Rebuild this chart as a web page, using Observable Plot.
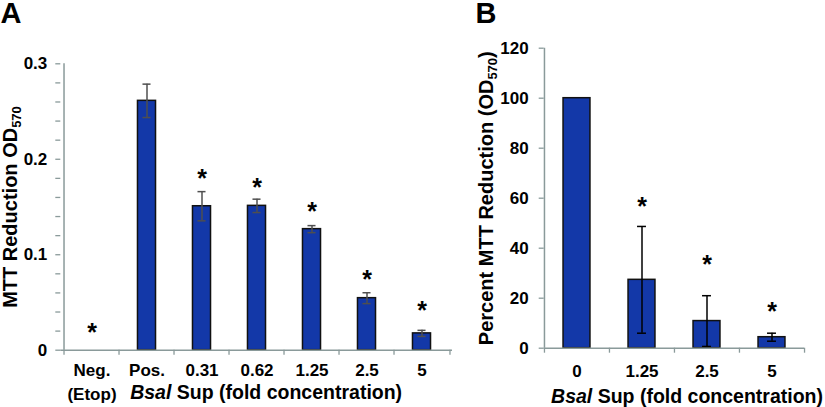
<!DOCTYPE html>
<html><head><meta charset="utf-8">
<script src="https://cdn.jsdelivr.net/npm/d3@7"></script>
<script src="https://cdn.jsdelivr.net/npm/@observablehq/plot@0.6"></script>
<style>
body{margin:0;background:#fff;}
#wrap{position:relative;width:825px;height:407px;overflow:hidden;background:#fff;}
#a,#b{position:absolute;top:0;}
#a{left:0;width:460px;}
#b{left:460px;width:365px;}
</style></head><body>
<div id="wrap"><div id="a"></div><div id="b"></div></div>
<script>
// ---------- Data (panel A) ----------
const catsA = ["Neg.\n(Etop)", "Pos.", "0.31", "0.62", "1.25", "2.5", "5"];
const meanA = [0, 0.2612, 0.1508, 0.1512, 0.1268, 0.0545, 0.0176];
const errA  = [0, 0.0175, 0.0153, 0.0070, 0.0037, 0.0057, 0.0032];
const starA = [0.024, null, 0.186, 0.176, 0.151, 0.0794, 0.0469];
const majorTicksA = [0, 0.1, 0.2, 0.3];
const minorTicksA = [0, 0.02, 0.04, 0.06, 0.08, 0.1, 0.12, 0.14, 0.16, 0.18, 0.2, 0.22, 0.24, 0.26, 0.28, 0.3];
const yTitleA = "MTT Reduction OD570";
const xTitle = "Bsal Sup (fold concentration)";

// ---------- Data (panel B) ----------
const catsB = ["0", "1.25", "2.5", "5"];
const meanB = [100, 27.35, 10.85, 4.4];
const errB  = [0, 21.35, 10.15, 1.6];
const starB = [null, 59, 35.8, 16.7];
const ticksB = [0, 20, 40, 60, 80, 100, 120];
const yTitleB = "Percent MTT Reduction (OD570)";

// ---------- Style ----------
const FONT = "'Liberation Sans', Arial, Helvetica, sans-serif";
const BLUE = "#1338a8";
const AXIS = "#8a9a9a";
const H = 407;

function panel({cats, mean, err, star, yDomain, yTicks, yMinor, yFmt, yTitle, letter,
                width, ml, mr, mt, mb, barW, capW, errColor, labelDy, yTitleDx, xTitleDx, xTitleDy, letterDx, yLabPad}) {
  const step = (width - ml - mr) / cats.length;
  const data = cats.map((c, i) => ({cat: c, v: mean[i], e: err[i], s: star[i]}));
  const bars = data.filter(d => d.v > 0);
  const errs = data.filter(d => d.e > 0);
  const stars = data.filter(d => d.s != null);
  const inset = (step - barW) / 2;
  const capInset = (step - capW) / 2;
  return Plot.plot({
    width, height: H, marginLeft: ml, marginRight: mr, marginTop: mt, marginBottom: mb,
    style: {fontFamily: FONT, background: "transparent", overflow: "visible", color: "#000"},
    x: {domain: cats, padding: 0, axis: null},
    y: {domain: yDomain, axis: null},
    marks: [
      Plot.axisY(yMinor, {tickSize: 5, stroke: AXIS, strokeWidth: 1.3, tickFormat: () => "", label: null}),
      Plot.axisY(yTicks, {tickSize: 0, tickPadding: yLabPad, fontSize: 17, fontWeight: "bold", fill: "#000", tickFormat: yFmt, label: null}),
      Plot.barY(bars, {x: "cat", y: "v", fill: BLUE, stroke: "#111", strokeWidth: 1.5, insetLeft: inset, insetRight: inset}),
      Plot.ruleX(errs, {x: "cat", y1: d => d.v - d.e, y2: d => d.v + d.e, stroke: errColor, strokeWidth: 1.5}),
      Plot.tickY(errs, {x: "cat", y: d => d.v + d.e, stroke: errColor, strokeWidth: 1.5, insetLeft: capInset, insetRight: capInset}),
      Plot.tickY(errs, {x: "cat", y: d => d.v - d.e, stroke: errColor, strokeWidth: 1.5, insetLeft: capInset, insetRight: capInset}),
      Plot.text(stars, {x: "cat", y: "s", text: () => "*", fontSize: 25, fontWeight: "bold", fill: "#000", dy: 6}),
      // axis lines and boundary ticks
      Plot.ruleX([cats[0]], {dx: -step / 2, y1: yDomain[0], y2: yDomain[1], stroke: AXIS, strokeWidth: 1.5}),
      Plot.ruleY([0], {stroke: AXIS, strokeWidth: 1.5}),
      Plot.ruleX(cats, {dx: -step / 2, y1: 0, y2: 0, insetBottom: -5, stroke: AXIS, strokeWidth: 1.3}),
      Plot.ruleX([cats[cats.length - 1]], {dx: step / 2, y1: 0, y2: 0, insetBottom: -5, stroke: AXIS, strokeWidth: 1.3}),
      // category labels
      Plot.text(cats, {x: d => d, frameAnchor: "bottom", lineAnchor: "top", dy: labelDy, lineHeight: 1.38,
                       fontSize: 17, fontWeight: "bold", fill: "#000"}),
      // titles
      Plot.text([xTitle], {frameAnchor: "bottom", textAnchor: "middle", lineAnchor: "middle", dx: xTitleDx, dy: xTitleDy,
                           fontSize: 19.5, fontWeight: "bold", fill: "#000"}),
      Plot.text([yTitle], {frameAnchor: "left", textAnchor: "middle", lineAnchor: "middle", rotate: -90, dx: yTitleDx,
                           fontSize: 20, fontWeight: "bold", fill: "#000"}),
      Plot.text([letter], {frameAnchor: "top-left", textAnchor: "start", lineAnchor: "top", dx: letterDx, dy: -mt + 2,
                           fontSize: 29, fontWeight: "bold", fill: "#000"})
    ]
  });
}

function richText(svg) {
  const NS = "http://www.w3.org/2000/svg";
  svg.querySelectorAll("text").forEach(t => {
    const s = t.textContent;
    if (s === xTitle) {
      t.textContent = "";
      const it = document.createElementNS(NS, "tspan");
      it.setAttribute("font-style", "italic");
      it.textContent = s.slice(0, 4);
      t.append(it, document.createTextNode(s.slice(4)));
    } else if (s === yTitleA || s === yTitleB) {
      const k = s.indexOf("570");
      t.textContent = s.slice(0, k);
      const sub = document.createElementNS(NS, "tspan");
      sub.setAttribute("font-size", "13");
      sub.setAttribute("dy", "4");
      sub.textContent = "570";
      t.append(sub);
      const rest = s.slice(k + 3);
      if (rest) {
        const r = document.createElementNS(NS, "tspan");
        r.setAttribute("dy", "-4");
        r.textContent = rest;
        t.append(r);
      }
    }
  });
}

const A = panel({
  cats: catsA, mean: meanA, err: errA, star: starA, yDomain: [0, 0.3],
  yTicks: majorTicksA, yMinor: minorTicksA, yFmt: d => String(d), yTitle: yTitleA, letter: "A",
  width: 460, ml: 60.3, mr: 8, mt: 63.3, mb: 57.3, barW: 19, capW: 9, errColor: "#4f4f4f",
  labelDy: 9.4, yTitleDx: -50, xTitleDx: 9.5, xTitleDy: 43, letterDx: -60.3, yLabPad: 13.5
});
const B = panel({
  cats: catsB, mean: meanB, err: errB, star: starB, yDomain: [0, 120],
  yTicks: ticksB, yMinor: ticksB, yFmt: d => String(d), yTitle: yTitleB, letter: "B",
  width: 365, ml: 83.7, mr: 21, mt: 47.7, mb: 59.3, barW: 27, capW: 9, errColor: "#000",
  labelDy: 12.4, yTitleDx: -57.5, xTitleDx: 12.7, xTitleDy: 48.3, letterDx: -68.7, yLabPad: 15.5
});
richText(A); richText(B);
document.getElementById("a").append(A);
document.getElementById("b").append(B);
</script>
</body></html>
